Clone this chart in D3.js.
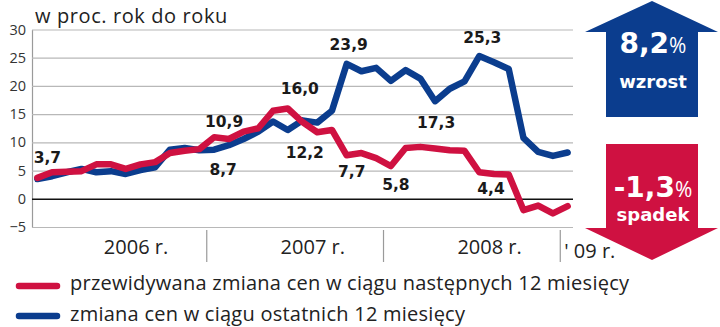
<!DOCTYPE html>
<html>
<head>
<meta charset="utf-8">
<script src="https://cdn.jsdelivr.net/npm/d3@7"></script>
<style>
  html, body { margin: 0; padding: 0; background: #fff; }
  svg { display: block; }
  .light { font-family: "Open Sans", "Liberation Sans", sans-serif; }
  .bold { font-family: "DejaVu Sans", sans-serif; font-weight: bold; }
</style>
</head>
<body>
<svg id="chart" width="720" height="327"></svg>
<script>
// Monthly categories, Jan 2006 – Jan 2009
const months = d3.timeMonth.range(new Date(2006, 0, 1), new Date(2009, 1, 1))
  .map(d3.timeFormat("%Y-%m"));

// przewidywana zmiana cen w ciągu następnych 12 miesięcy
const expected = [3.7, 4.7, 4.8, 4.9, 6.1, 6.1, 5.3, 6.1, 6.5, 8.1, 8.5, 8.8,
                  10.9, 10.6, 11.9, 12.5, 15.6, 16.0, 13.6, 11.8, 12.2, 7.7, 8.1, 7.2,
                  5.8, 9.0, 9.2, 8.9, 8.6, 8.5, 4.7, 4.4, 4.3, -2.0, -1.2, -2.6,
                  -1.3];
// zmiana cen w ciągu ostatnich 12 miesięcy
const observed = [3.5, 4.0, 4.7, 5.3, 4.7, 4.9, 4.4, 5.1, 5.6, 8.7, 9.0, 8.6,
                  8.7, 9.5, 10.6, 11.9, 13.7, 12.2, 13.9, 13.5, 15.6, 23.9, 22.6, 23.2,
                  20.9, 22.8, 21.3, 17.3, 19.5, 20.8, 25.3, 24.2, 23.0, 10.8, 8.3, 7.6,
                  8.2];

const yTicks = [30, 25, 20, 15, 10, 5, 0, -5];
const yearLabels = ["2006 r.", "2007 r.", "2008 r.", "' 09 r."];
const legendLabels = ["przewidywana zmiana cen w ciągu następnych 12 miesięcy",
                      "zmiana cen w ciągu ostatnich 12 miesięcy"];
const title = "w proc. rok do roku";

// Points that carry a value label: [series, month index]
const labelled = [["expected", 0], ["expected", 12], ["observed", 12],
                  ["expected", 17], ["observed", 17], ["expected", 21],
                  ["observed", 21], ["expected", 24], ["observed", 27],
                  ["observed", 30], ["expected", 31]];

const RED = "#cf1141";
const BLUE = "#0b3d8e";

const pl = d3.formatLocale({decimal: ",", thousands: " ", grouping: [3],
                            currency: ["", " zł"], minus: "-"});
const fmt = pl.format(".1f");

const svg = d3.select("#chart");
svg.append("rect").attr("width", 720).attr("height", 327).attr("fill", "#fff");

const plotLeft = 32, plotRight = 573;
const x = d3.scalePoint().domain(months).range([30, 575]).padding(0.5);
const y = d3.scaleLinear().domain([-5, 30]).range([227, 29.5]);

// Title
svg.append("text").attr("class", "light")
  .attr("x", 35).attr("y", 23)
  .attr("font-size", 20).attr("letter-spacing", 0.6).attr("fill", "#222")
  .text(title);

// Y axis with gridlines
const yAxis = svg.append("g")
  .attr("transform", `translate(${plotLeft},0)`)
  .call(d3.axisLeft(y).tickValues(yTicks).tickSize(-(plotRight - plotLeft))
    .tickSizeOuter(0).tickPadding(6).tickFormat(d3.format("d")));
yAxis.select(".domain").attr("stroke", "#9a9a9a").attr("stroke-width", 1.2);
yAxis.selectAll(".tick line").attr("stroke", "#b8b8b8").attr("stroke-width", 1.2);
yAxis.selectAll(".tick text").attr("class", "light")
  .attr("font-size", 14.5).attr("fill", "#333");
yAxis.selectAll(".tick").filter(d => d === 0).select("line")
  .attr("stroke", "#111").attr("stroke-width", 1.6);

// Year separators and labels
const step = x.step();
const yearStarts = [0, 12, 24, 36];
yearStarts.slice(1).forEach(i => {
  const xs = x(months[i]) - step / 2;
  svg.append("line").attr("x1", xs).attr("x2", xs).attr("y1", 230).attr("y2", 262)
    .attr("stroke", "#9a9a9a").attr("stroke-width", 1.2);
});
yearLabels.forEach((t, k) => {
  const s = yearStarts[k];
  const last = k === yearLabels.length - 1;
  svg.append("text").attr("class", "light")
    .attr("x", last ? x(months[s]) - step / 2 + 4 : x(months[s]) + step * 6.7)
    .attr("y", last ? 258 : 254)
    .attr("text-anchor", last ? "start" : "middle")
    .attr("font-size", 20).attr("fill", "#222")
    .text(t);
});

// Lines
const line = d3.line().x((d, i) => x(months[i])).y(d => y(d));
const series = {observed: {values: observed, color: BLUE}, expected: {values: expected, color: RED}};
["observed", "expected"].forEach(k => {
  svg.append("path").datum(series[k].values)
    .attr("d", line).attr("fill", "none")
    .attr("stroke", series[k].color).attr("stroke-width", 6.5)
    .attr("stroke-linejoin", "round").attr("stroke-linecap", "round");
});

// Value labels: offset of label centre/baseline from its point
const labelOffsets = [[10, -15], [10, -10], [9, 25], [12, -15], [17, 28], [5, 22],
                      [2, -14], [5, 24], [1, 27], [3, -13], [-3, 20]];
labelled.forEach(([k, i], n) => {
  const v = series[k].values[i];
  svg.append("text").attr("class", "bold")
    .attr("x", x(months[i]) + labelOffsets[n][0])
    .attr("y", y(v) + labelOffsets[n][1])
    .attr("text-anchor", "middle")
    .attr("font-size", 15.5).attr("fill", "#1a1a1a")
    .text(fmt(v));
});

// Arrows with the latest values
const lastObs = observed[observed.length - 1];
const lastExp = expected[expected.length - 1];
const cx = 652;
svg.append("path").attr("fill", BLUE)
  .attr("d", d3.line()([[cx, 1], [718, 32], [698, 32], [698, 117], [606, 117], [606, 32], [585, 32]]) + "Z");
svg.append("path").attr("fill", RED)
  .attr("d", d3.line()([[606, 144], [698, 144], [698, 228], [718, 228], [cx, 260], [585, 228], [606, 228]]) + "Z");

function arrowText(value, word, yVal, yWord) {
  const t = svg.append("text").attr("x", 653).attr("y", yVal)
    .attr("text-anchor", "middle").attr("fill", "#fff");
  t.append("tspan").attr("class", "bold").attr("font-size", 28).text(fmt(value));
  t.append("tspan").attr("class", "light").attr("font-size", 21).text("%");
  svg.append("text").attr("class", "bold").attr("x", 653).attr("y", yWord)
    .attr("text-anchor", "middle").attr("fill", "#fff").attr("font-size", 18)
    .text(word);
}
arrowText(lastObs, "wzrost", 53, 88);
arrowText(lastExp, "spadek", 197, 221);

// Legend
[[RED, 286, 290], [BLUE, 316, 321]].forEach(([c, ly, ty], k) => {
  svg.append("line").attr("x1", 19).attr("x2", 57).attr("y1", ly).attr("y2", ly)
    .attr("stroke", c).attr("stroke-width", 6.5).attr("stroke-linecap", "round");
  svg.append("text").attr("class", "light").attr("x", 70).attr("y", ty)
    .attr("font-size", 20).attr("letter-spacing", 0.25).attr("fill", "#222")
    .text(legendLabels[k]);
});
</script>
</body>
</html>
